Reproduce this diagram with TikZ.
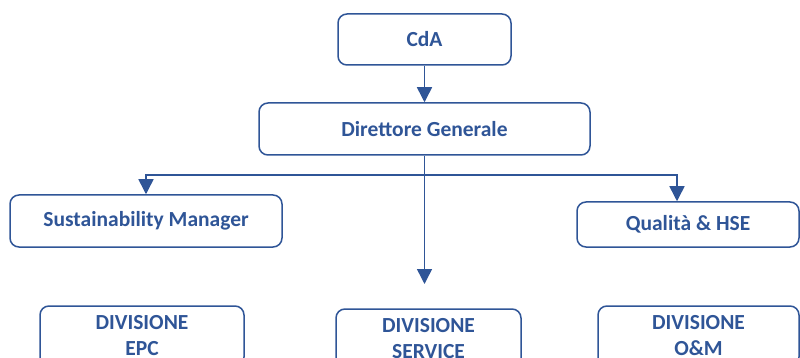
\documentclass[tikz,border=0pt]{standalone}
\usepackage{fontspec}
\setmainfont{Carlito}
\usetikzlibrary{arrows.meta,calc}
\definecolor{dblue}{HTML}{2F5597}
\tikzset{
  box/.style={draw=dblue, line width=1.5pt, rounded corners=9pt, text=dblue,
    font=\bfseries\fontsize{21.5}{26}\selectfont, align=center, inner sep=0pt},
  arr/.style={draw=dblue, line width=1.5pt, -{Triangle[width=15pt,length=15pt]}},
  ln/.style={draw=dblue, line width=1.5pt}
}
\begin{document}
\begin{tikzpicture}[x=1pt,y=-1pt]
\useasboundingbox (0,0) rectangle (800,358);
\clip (0,0) rectangle (800,358);
\node[box, minimum width=173pt, minimum height=51pt] (cda) at (424.5,39.5) {CdA};
\node[box, minimum width=331pt, minimum height=52pt] (dg) at (424.5,129) {Direttore Generale};
\node[box, minimum width=272pt, minimum height=52pt] (sm) at (146,221) {Sustainability Manager};
\node[box, minimum width=222pt, minimum height=45pt] (q) at (688,224.5) {Qualità \& HSE};
\node[box, minimum width=204pt, minimum height=60pt] (epc) at (142,336) {DIVISIONE\\EPC};
\node[box, minimum width=185pt, minimum height=60pt] (srv) at (428.5,339) {DIVISIONE\\SERVICE};
\node[box, minimum width=201pt, minimum height=60pt] (om) at (698.5,336) {DIVISIONE\\O\&M};
\coordinate (bus) at (dg.south |- 0,175);
\coordinate (qin) at ($(q.north)+(-11,0)$);
\coordinate (down) at (dg.south |- 0,284);
\draw[arr] (cda) -- (dg);
\draw[arr] (dg.south) -- (down);
\draw[arr] (bus) -| (sm.north);
\draw[arr] (bus) -| (qin);
\end{tikzpicture}
\end{document}
